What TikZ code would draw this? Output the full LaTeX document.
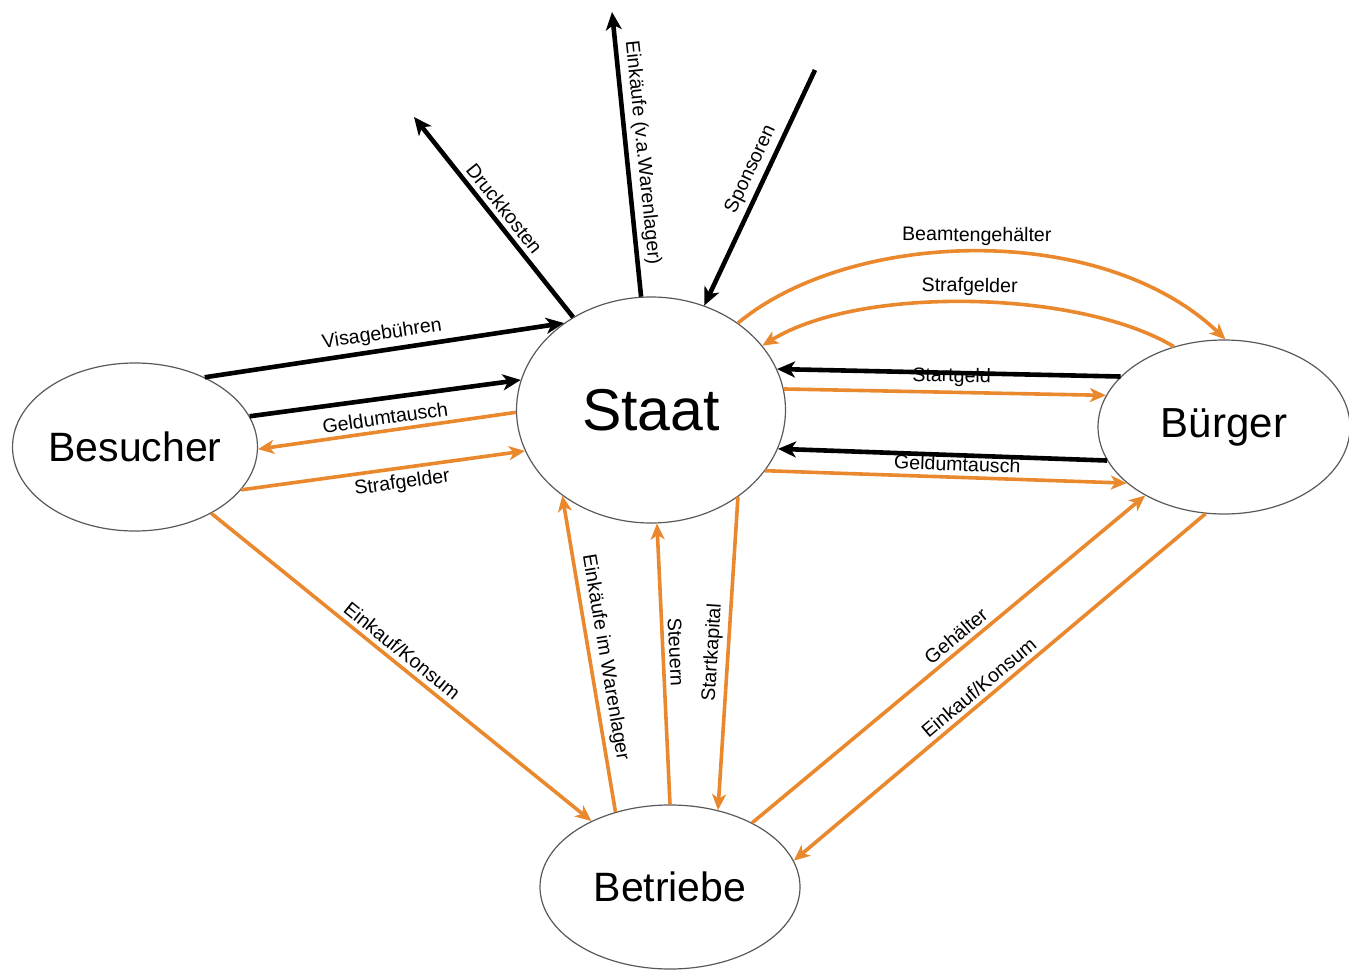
\documentclass[tikz,border=0pt]{standalone}
\usepackage{fontspec}
\setmainfont{Liberation Sans}
\usetikzlibrary{arrows.meta,shapes.geometric}
\definecolor{flussorange}{RGB}{233,136,44}
\tikzset{
  akteur/.style={ellipse,draw=black!65,line width=0.6pt,inner sep=0pt},
  extern/.style={-{Stealth[length=9pt,width=8pt,inset=2.5pt]},line width=2.3pt,black},
  intern/.style={-{Stealth[length=8pt,width=7pt,inset=2.2pt]},line width=1.8pt,flussorange},
  lbl/.style={sloped,above,inner sep=2.2pt,text=black,font=\fontsize{9.8}{11}\selectfont},
}
\begin{document}
\begin{tikzpicture}[x=0.5pt,y=-0.5pt]
\useasboundingbox (0,0) rectangle (1349,973);
% Akteure
\node[akteur,minimum width=122pt,minimum height=84pt,font=\fontsize{20.5}{24}\selectfont] (besucher) at (135,447) {Besucher};
\node[akteur,minimum width=134.5pt,minimum height=113pt,font=\fontsize{29.5}{34}\selectfont] (staat) at (651,410) {Staat};
\node[akteur,minimum width=126pt,minimum height=87pt,font=\fontsize{21}{25}\selectfont] (buerger) at (1224,427) {Bürger};
\node[akteur,minimum width=130pt,minimum height=82pt,font=\fontsize{20.5}{24}\selectfont] (betriebe) at (670,887) {Betriebe};
% freie Enden
\coordinate (druck) at (414,117);
\coordinate (lager) at (612,12);
\coordinate (sponsor) at (815,70);
% nach aussen
\draw[extern] (staat.130) -- (druck) node[lbl,pos=0.5]{Druckkosten};
\draw[extern] (staat.95) -- (lager) node[lbl,pos=0.5]{Einkäufe (v.a.Warenlager)};
\draw[extern] (sponsor) -- (staat.63) node[lbl,pos=0.45]{Sponsoren};
% Besucher und Staat
\draw[extern] (besucher.45) -- (staat.135) node[lbl,pos=0.5]{Visagebühren};
\draw[extern] (besucher.15) -- (staat.167);
\draw[intern] (staat.181) -- (besucher.-1) node[lbl,pos=0.5]{Geldumtausch};
\draw[intern] (besucher.-22) -- (staat.198) node[lbl,below,pos=0.56]{Strafgelder};
% Staat und Buerger
\draw[intern] (staat.45) .. controls (850,230) and (1100,220) .. (buerger.89) node[lbl,pos=0.5]{Beamtengehälter};
\draw[intern] (buerger.122) .. controls (1080,290) and (860,285) .. (staat.30) node[lbl,pos=0.5]{Strafgelder};
\draw[extern] (buerger.154) -- (staat.18);
\draw[intern] (staat.9) -- (buerger.165) node[lbl,pos=0.52]{Startgeld};
\draw[extern] (buerger.196) -- (staat.-17);
\draw[intern] (staat.-28) -- (buerger.210) node[lbl,pos=0.53]{Geldumtausch};
% Betriebe
\draw[intern] (besucher.-41) -- (betriebe.140) node[lbl,pos=0.48]{Einkauf/Konsum};
\draw[intern] (betriebe.126) -- (staat.-136) node[lbl,pos=0.48]{Einkäufe im Warenlager};
\draw[intern] (betriebe.90) -- (staat.-87) node[lbl,pos=0.54]{Steuern};
\draw[intern] (staat.-45) -- (betriebe.58) node[lbl,pos=0.5]{Startkapital};
\draw[intern] (betriebe.38) -- (buerger.221) node[lbl,pos=0.54]{Gehälter};
\draw[intern] (buerger.258) -- (betriebe.12) node[lbl,pos=0.53]{Einkauf/Konsum};
\end{tikzpicture}
\end{document}
